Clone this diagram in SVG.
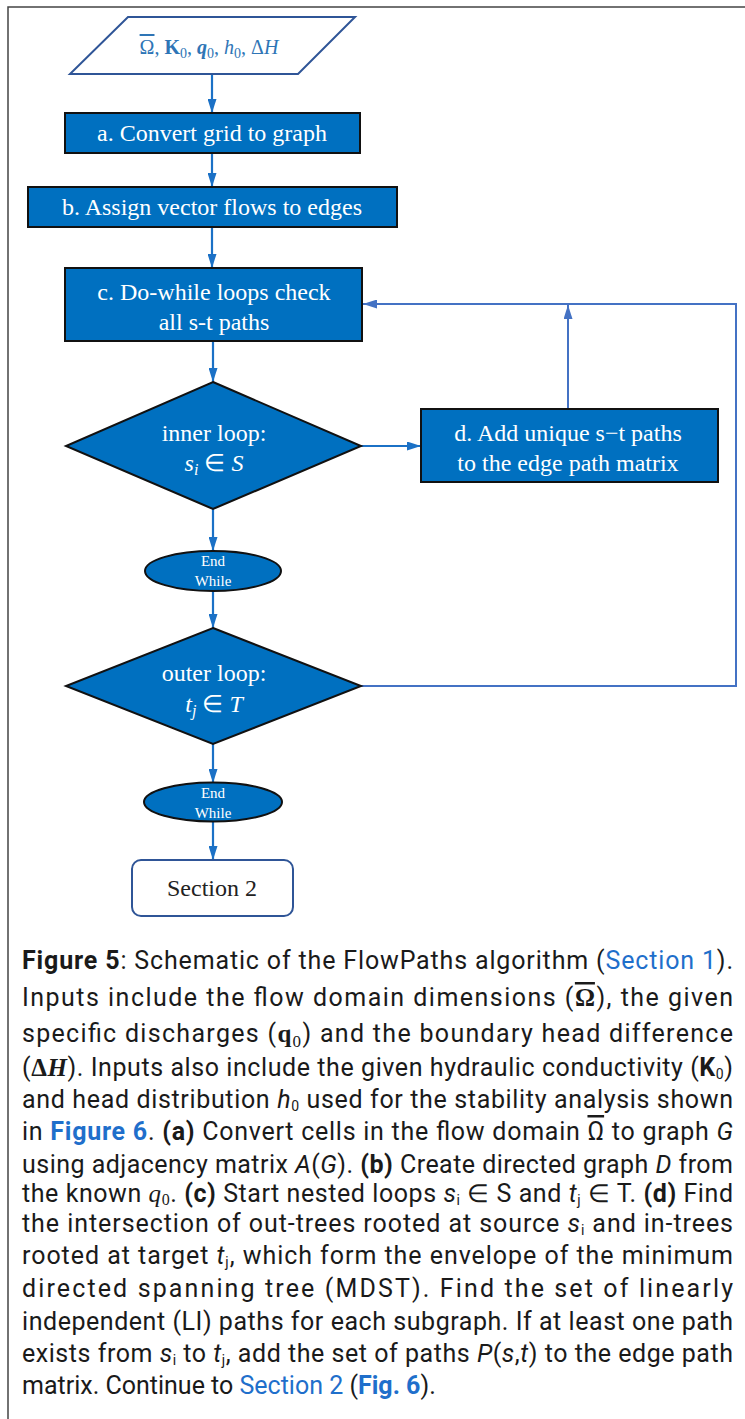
<svg xmlns="http://www.w3.org/2000/svg" width="745" height="1419" viewBox="0 0 745 1419">
<style>
.box{fill:#0070C0;stroke:#111;stroke-width:2}
.lbl{font-family:"Liberation Serif","Times New Roman",serif;font-size:24px;fill:#fff;text-anchor:middle}
.sm{font-family:"Liberation Serif","Times New Roman",serif;font-size:15px;fill:#fff;text-anchor:middle}
.conn{fill:none;stroke:#1B71C6;stroke-width:2.2}
.fb{fill:none;stroke:#4472C4;stroke-width:2}
.cap{font-family:Roboto,"Liberation Sans",sans-serif;font-size:25px;fill:#1a1a1a}
.b{font-weight:bold}
.lnk{fill:#1F6FCB}
.i{font-style:italic}
.m{font-family:"Liberation Serif","DejaVu Serif",serif}
.ov{text-decoration:overline}
</style>
<defs>
<marker id="ah" viewBox="0 0 14 9" refX="14" refY="4.5" markerWidth="14" markerHeight="9" markerUnits="userSpaceOnUse" orient="auto"><path d="M0,0 L14,4.5 L0,9 z" fill="#1B71C6"/></marker>
<marker id="ah2" viewBox="0 0 14 9" refX="14" refY="4.5" markerWidth="14" markerHeight="9" markerUnits="userSpaceOnUse" orient="auto"><path d="M0,0 L14,4.5 L0,9 z" fill="#4472C4"/></marker>
</defs>
<g id="frame"><path d="M745,7 L8,7 L8,1419" fill="none" stroke="#444" stroke-width="1.5"/></g>
<g id="connectors">
<line class="conn" x1="212" y1="74" x2="212" y2="113" marker-end="url(#ah)"/>
<line class="conn" x1="212" y1="153" x2="212" y2="187" marker-end="url(#ah)"/>
<line class="conn" x1="212" y1="227" x2="212" y2="268" marker-end="url(#ah)"/>
<line class="conn" x1="213" y1="341" x2="213" y2="382" marker-end="url(#ah)"/>
<line class="conn" x1="361" y1="446" x2="421" y2="446" marker-end="url(#ah)"/>
<line class="fb" x1="568" y1="409" x2="568" y2="305" marker-end="url(#ah2)"/>
<polyline class="fb" points="361,686 736,686 736,304 363,304" marker-end="url(#ah2)"/>
<line class="conn" x1="213" y1="509" x2="213" y2="551" marker-end="url(#ah)"/>
<line class="conn" x1="213" y1="591" x2="213" y2="628" marker-end="url(#ah)"/>
<line class="conn" x1="213" y1="744" x2="213" y2="783" marker-end="url(#ah)"/>
<line class="conn" x1="213" y1="822" x2="213" y2="860" marker-end="url(#ah)"/>
</g>
<g id="input">
<polygon points="128,17 355,17 298,74 70,74" fill="#fff" stroke="#2F5597" stroke-width="2"/>
<text x="209" y="54" text-anchor="middle" font-family="'Liberation Serif','DejaVu Serif',serif" font-size="20" fill="#2E75B6"><tspan class="ov">Ω</tspan>, <tspan font-weight="bold">K</tspan><tspan font-size="14" dy="4">0</tspan><tspan dy="-4">, </tspan><tspan font-weight="bold" font-style="italic">q</tspan><tspan font-size="14" dy="4">0</tspan><tspan dy="-4">, </tspan><tspan font-style="italic">h</tspan><tspan font-size="14" dy="4">0</tspan><tspan dy="-4">, Δ</tspan><tspan font-style="italic">H</tspan></text>
</g>
<g id="node-a">
<rect class="box" x="65" y="113" width="295" height="40"/>
<text class="lbl" x="212" y="141">a. Convert grid to graph</text>
</g>
<g id="node-b">
<rect class="box" x="28" y="187" width="369" height="40"/>
<text class="lbl" x="212" y="215">b. Assign vector flows to edges</text>
</g>
<g id="node-c">
<rect class="box" x="65" y="268" width="297" height="73"/>
<text class="lbl" x="214" y="300">c. Do-while loops check</text>
<text class="lbl" x="214" y="330">all s-t paths</text>
</g>
<g id="node-inner">
<polygon class="box" points="213,382 361,446 213,509 66,446"/>
<text class="lbl" x="214" y="441">inner loop:</text>
<text class="lbl" x="214" y="471"><tspan font-style="italic">s</tspan><tspan font-style="italic" font-size="16" dy="4">i</tspan><tspan dy="-4"> ∈ </tspan><tspan font-style="italic">S</tspan></text>
</g>
<g id="node-d">
<rect class="box" x="421" y="409" width="297" height="73"/>
<text class="lbl" x="568" y="441">d. Add unique s−t paths</text>
<text class="lbl" x="568" y="471">to the edge path matrix</text>
</g>
<g id="node-end1">
<ellipse class="box" cx="213" cy="571" rx="68" ry="20"/>
<text class="sm" x="213" y="566">End</text>
<text class="sm" x="213" y="586">While</text>
</g>
<g id="node-outer">
<polygon class="box" points="213,628 361,686 213,744 66,686"/>
<text class="lbl" x="214" y="681">outer loop:</text>
<text class="lbl" x="214" y="712"><tspan font-style="italic">t</tspan><tspan font-style="italic" font-size="16" dy="4">j</tspan><tspan dy="-4"> ∈ </tspan><tspan font-style="italic">T</tspan></text>
</g>
<g id="node-end2">
<ellipse class="box" cx="213" cy="802" rx="69" ry="19.5"/>
<text class="sm" x="213" y="798">End</text>
<text class="sm" x="213" y="818">While</text>
</g>
<g id="node-section2">
<rect x="132" y="860" width="161" height="56" rx="9" fill="#fff" stroke="#2F5597" stroke-width="2"/>
<text x="212" y="896" text-anchor="middle" font-family="'Liberation Serif','Times New Roman',serif" font-size="24" fill="#222">Section 2</text>
</g>
<g id="caption" class="cap">
<text x="22" y="969" textLength="711" lengthAdjust="spacing"><tspan class="b">Figure 5</tspan>: Schematic of the FlowPaths algorithm (<tspan class="lnk">Section 1</tspan>).</text>
<text x="22" y="1006" textLength="711" lengthAdjust="spacing">Inputs include the flow domain dimensions (<tspan class="m b ov">Ω</tspan>), the given</text>
<text x="22" y="1042" textLength="711" lengthAdjust="spacing">specific discharges (<tspan class="m b">q</tspan><tspan class="m" font-size="17" dy="5">0</tspan><tspan dy="-5">) and the boundary head difference</tspan></text>
<text x="22" y="1076" textLength="711" lengthAdjust="spacing">(<tspan class="m b">Δ</tspan><tspan class="m b i">H</tspan>). Inputs also include the given hydraulic conductivity (<tspan class="b">K</tspan><tspan font-size="14" dy="3">0</tspan><tspan dy="-3">)</tspan></text>
<text x="22" y="1108" textLength="711" lengthAdjust="spacing">and head distribution <tspan class="i">h</tspan><tspan font-size="14" dy="3">0</tspan><tspan dy="-3"> used for the stability analysis shown</tspan></text>
<text x="22" y="1140" textLength="711" lengthAdjust="spacing">in <tspan class="b lnk">Figure 6</tspan>. <tspan class="b">(a)</tspan> Convert cells in the flow domain <tspan class="ov">Ω</tspan> to graph <tspan class="i">G</tspan></text>
<text x="22" y="1173" textLength="711" lengthAdjust="spacing">using adjacency matrix <tspan class="i">A</tspan>(<tspan class="i">G</tspan>). <tspan class="b">(b)</tspan> Create directed graph <tspan class="i">D</tspan> from</text>
<text x="22" y="1202" textLength="711" lengthAdjust="spacing">the known <tspan class="m i" font-size="25">q</tspan><tspan class="m" font-size="16" dy="3">0</tspan><tspan dy="-3">. </tspan><tspan class="b">(c)</tspan> Start nested loops <tspan class="i">s</tspan><tspan font-size="14" dy="3">i</tspan><tspan dy="-3"> ∈ S and </tspan><tspan class="i">t</tspan><tspan font-size="14" dy="3">j</tspan><tspan dy="-3"> ∈ T. </tspan><tspan class="b">(d)</tspan> Find</text>
<text x="22" y="1232" textLength="711" lengthAdjust="spacing">the intersection of out-trees rooted at source <tspan class="i">s</tspan><tspan font-size="14" dy="3">i</tspan><tspan dy="-3"> and in-trees</tspan></text>
<text x="22" y="1264" textLength="711" lengthAdjust="spacing">rooted at target <tspan class="i">t</tspan><tspan font-size="14" dy="3">j</tspan><tspan dy="-3">, which form the envelope of the minimum</tspan></text>
<text x="22" y="1297" textLength="711" lengthAdjust="spacing">directed spanning tree (MDST). Find the set of linearly</text>
<text x="22" y="1330" textLength="711" lengthAdjust="spacing">independent (LI) paths for each subgraph. If at least one path</text>
<text x="22" y="1362" textLength="711" lengthAdjust="spacing">exists from <tspan class="i">s</tspan><tspan font-size="14" dy="3">i</tspan><tspan dy="-3"> to </tspan><tspan class="i">t</tspan><tspan font-size="14" dy="3">j</tspan><tspan dy="-3">, add the set of paths </tspan><tspan class="i">P</tspan>(<tspan class="i">s</tspan>,<tspan class="i">t</tspan>) to the edge path</text>
<text x="22" y="1394">matrix. Continue to <tspan class="lnk">Section 2</tspan> (<tspan class="b lnk">Fig. 6</tspan>).</text>
</g>
</svg>
